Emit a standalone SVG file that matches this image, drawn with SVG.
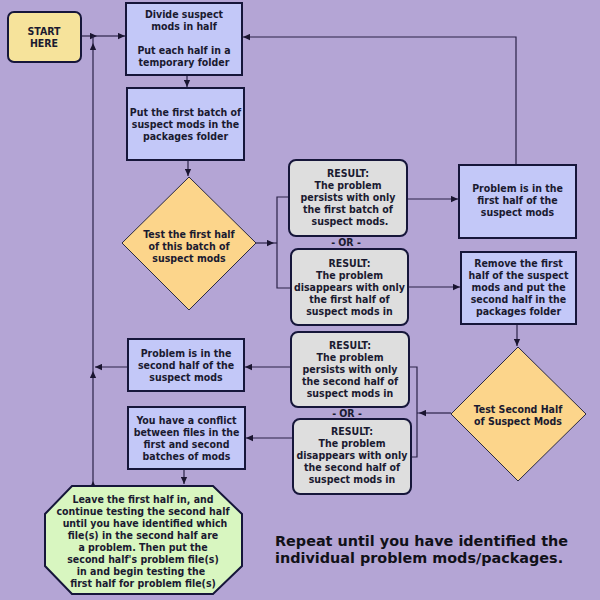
<svg xmlns="http://www.w3.org/2000/svg" width="600" height="600" viewBox="0 0 600 600">
<defs>
<style>
.t{font-family:"DejaVu Sans Condensed","DejaVu Sans","Liberation Sans",sans-serif;font-weight:bold;font-size:10.5px;fill:#1a1a30;text-anchor:middle}
.big{font-family:"DejaVu Sans","Liberation Sans",sans-serif;font-weight:bold;font-size:14.4px;fill:#111118}
.box{fill:#c3c8f8;stroke:#16163a;stroke-width:2}
.res{fill:#dedede;stroke:#16163a;stroke-width:2}
.dia{fill:#fcd58b;stroke:#2a2a40;stroke-width:1}
.c{fill:none;stroke:#2a2248;stroke-width:1.2}
.a{marker-end:url(#arr)}
</style>
<marker id="arr" viewBox="0 0 10 10" refX="10" refY="5" markerWidth="8" markerHeight="7" markerUnits="userSpaceOnUse" orient="auto">
<path d="M0,0.5 L10,5 L0,9.5 z" fill="#1a1530"/>
</marker>
</defs>
<rect width="600" height="600" fill="#b4a5d5"/>

<g id="connectors">
<path class="c a" d="M81,36 H97"/>
<path class="c a" d="M97,36 H125"/>
<path class="c a" d="M93,487 V481"/>
<path class="c a" d="M93,481 V371"/>
<path class="c a" d="M93,371 V43"/>
<path class="c" d="M93,43 V36"/>
<path class="c a" d="M128,367 H95"/>
<path class="c a" d="M187,75 V87"/>
<path class="c a" d="M188,160 V176"/>
<path class="c a" d="M256,243 H274"/>
<path class="c" d="M274,243 H277"/>
<path class="c" d="M289,197 H277 V288 H291"/>
<path class="c a" d="M407,199 H458"/>
<path class="c a" d="M408,287 H460"/>
<path class="c a" d="M516,165 V37 H243"/>
<path class="c a" d="M517,324 V346"/>
<path class="c a" d="M451,413 H419"/>
<path class="c" d="M419,413 H417"/>
<path class="c" d="M409,367 H417 V457 H411"/>
<path class="c a" d="M291,367 H245"/>
<path class="c a" d="M293,438 H246"/>
<path class="c a" d="M184,469 V484"/>
</g>

<g id="start">
<rect x="8" y="12" width="73" height="50" rx="6" fill="#f6e39b" stroke="#16163a" stroke-width="2"/>
<text class="t" x="44" y="35">START</text>
<text class="t" x="44" y="47">HERE</text>
</g>

<g id="divide">
<rect class="box" x="126" y="3" width="116" height="72"/>
<text class="t" x="184" y="18">Divide suspect</text>
<text class="t" x="184" y="30">mods in half</text>
<text class="t" x="184" y="54">Put each half in a</text>
<text class="t" x="184" y="66">temporary folder</text>
</g>

<g id="firstbatch">
<rect class="box" x="127" y="88" width="117" height="72"/>
<text class="t" x="185.5" y="116">Put the first batch of</text>
<text class="t" x="185.5" y="128">suspect mods in the</text>
<text class="t" x="185.5" y="140">packages folder</text>
</g>

<g id="test1">
<polygon class="dia" points="189,177 256,243 189,310 122,243"/>
<text class="t" x="189" y="238">Test the first half</text>
<text class="t" x="189" y="250">of this batch of</text>
<text class="t" x="189" y="262">suspect mods</text>
</g>

<g id="resultA">
<rect class="res" x="289" y="160" width="118" height="76" rx="7"/>
<text class="t" x="348" y="177">RESULT:</text>
<text class="t" x="348" y="189">The problem</text>
<text class="t" x="348" y="201">persists with only</text>
<text class="t" x="348" y="213">the first batch of</text>
<text class="t" x="350" y="225">suspect mods.</text>
</g>
<text class="t" x="346" y="246">- OR -</text>

<g id="resultB">
<rect class="res" x="291" y="249" width="117" height="76" rx="7"/>
<text class="t" x="349.5" y="267">RESULT:</text>
<text class="t" x="349.5" y="279">The problem</text>
<text class="t" x="349.5" y="291">disappears with only</text>
<text class="t" x="349.5" y="303">the first half of</text>
<text class="t" x="349.5" y="315">suspect mods in</text>
</g>

<g id="firsthalf">
<rect class="box" x="459" y="165" width="117" height="73"/>
<text class="t" x="517.5" y="192">Problem is in the</text>
<text class="t" x="517.5" y="204">first half of the</text>
<text class="t" x="517.5" y="216">suspect mods</text>
</g>

<g id="remove">
<rect class="box" x="461" y="252" width="115" height="72"/>
<text class="t" x="518.5" y="267">Remove the first</text>
<text class="t" x="518.5" y="279">half of the suspect</text>
<text class="t" x="518.5" y="291">mods and put the</text>
<text class="t" x="518.5" y="303">second half in the</text>
<text class="t" x="518.5" y="315">packages folder</text>
</g>

<g id="test2">
<polygon class="dia" points="518,347 586,414 518,481 451,414"/>
<text class="t" x="518" y="413">Test Second Half</text>
<text class="t" x="518" y="425">of Suspect Mods</text>
</g>

<g id="resultC">
<rect class="res" x="291" y="332" width="118" height="75" rx="7"/>
<text class="t" x="350" y="349">RESULT:</text>
<text class="t" x="350" y="361">The problem</text>
<text class="t" x="350" y="373">persists with only</text>
<text class="t" x="350" y="385">the second half of</text>
<text class="t" x="350" y="397">suspect mods in</text>
</g>
<text class="t" x="347" y="417">- OR -</text>

<g id="resultD">
<rect class="res" x="293" y="419" width="118" height="75" rx="7"/>
<text class="t" x="352" y="435">RESULT:</text>
<text class="t" x="352" y="447">The problem</text>
<text class="t" x="352" y="459">disappears with only</text>
<text class="t" x="352" y="471">the second half of</text>
<text class="t" x="352" y="483">suspect mods in</text>
</g>

<g id="secondhalf">
<rect class="box" x="128" y="339" width="116" height="52"/>
<text class="t" x="186" y="357">Problem is in the</text>
<text class="t" x="186" y="369">second half of the</text>
<text class="t" x="186" y="381">suspect mods</text>
</g>

<g id="conflict">
<rect class="box" x="128" y="407" width="117" height="62"/>
<text class="t" x="186.5" y="424">You have a conflict</text>
<text class="t" x="186.5" y="436">between files in the</text>
<text class="t" x="186.5" y="448">first and second</text>
<text class="t" x="186.5" y="460">batches of mods</text>
</g>

<g id="leave">
<polygon points="72,486 213,486 242,514 242,566 213,594 72,594 45,566 45,514" fill="#d8f6c0" stroke="#16163a" stroke-width="2"/>
<text class="t" x="143" y="503">Leave the first half in, and</text>
<text class="t" x="143" y="515">continue testing the second half</text>
<text class="t" x="145" y="527">until you have identified which</text>
<text class="t" x="143" y="539">file(s) in the second half are</text>
<text class="t" x="143" y="551">a problem.  Then put the</text>
<text class="t" x="143" y="563">second half's problem file(s)</text>
<text class="t" x="141" y="575">in and begin testing the</text>
<text class="t" x="143" y="587">first half for problem file(s)</text>
</g>

<g id="note">
<text class="big" x="275" y="546">Repeat until you have identified the</text>
<text class="big" x="275" y="563">individual problem mods/packages.</text>
</g>
</svg>
